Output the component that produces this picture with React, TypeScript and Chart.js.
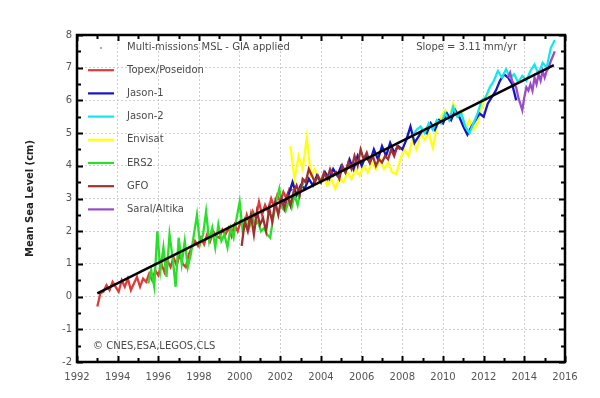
import React, { useEffect, useRef } from "react";
import { Chart, registerables } from "chart.js";
Chart.register(...registerables);

// ---- axis ticks ----
const xTickYears = [1992, 1994, 1996, 1998, 2000, 2002, 2004, 2006, 2008, 2010, 2012, 2014, 2016];
const yTickValues = [-2, -1, 0, 1, 2, 3, 4, 5, 6, 7, 8];

// ---- series (start year, step in years, values in cm) ----
const topexStart = 1993.0, topexStep = 0.15;
const topex = [
  -0.3, 0.1, 0.15, 0.35, 0.2, 0.45, 0.3, 0.15, 0.5, 0.3,
  0.55, 0.2, 0.4, 0.6, 0.3, 0.55, 0.45, 0.7, 0.5, 0.8,
  0.65, 1.0, 0.75, 1.1, 0.9, 1.2, 0.95, 1.3, 1.0, 0.9,
  1.3, 1.5, 1.7, 1.55, 1.8, 1.6, 1.9, 1.7, 2.0, 1.85,
  1.8, 2.05, 1.9, 2.1, 1.85, 2.2, 2.0, 2.3, 2.1, 2.5,
  2.2, 2.6, 2.4, 2.9, 2.5, 2.8, 2.6, 3.0, 2.75, 3.1,
  2.9, 3.2, 3.0, 3.3, 3.25,
];

const jason1Start = 2002.0, jason1Step = 0.2;
const jason1 = [
  3.0, 2.9, 3.1, 3.5, 3.1, 3.4, 3.3, 3.6, 3.4, 3.7,
  3.5, 3.8, 3.6, 3.9, 3.7, 4.0, 3.8, 4.2, 3.9, 4.3,
  4.0, 4.3, 4.1, 4.5, 4.2, 4.6, 4.3, 4.7, 4.4, 4.6,
  4.5, 4.8, 5.2, 4.7, 4.9, 5.1, 5.0, 5.3, 5.1, 5.4,
  5.3, 5.6, 5.4, 5.7, 5.5, 5.2, 4.95, 5.2, 5.4, 5.6,
  5.5, 5.9, 6.1, 6.3, 6.6, 6.8, 6.7, 6.5, 6.0,
];

const jason2Start = 2008.5, jason2Step = 0.2;
const jason2 = [
  4.9, 5.1, 5.2, 5.0, 5.3, 5.1, 5.4, 5.3, 5.6, 5.4,
  5.8, 5.5, 5.6, 5.2, 5.0, 5.3, 5.6, 6.0, 6.1, 6.4,
  6.6, 6.9, 6.7, 6.95, 6.7, 6.8, 6.55, 6.75, 6.6, 6.9,
  7.1, 6.8, 7.15, 7.0, 7.6, 7.85,
];

const envisatStart = 2002.5, envisatStep = 0.2;
const envisat = [
  4.6, 3.6, 4.3, 3.9, 4.85, 3.7, 3.9, 3.5, 3.7, 3.4,
  3.6, 3.3, 3.6, 3.5, 3.8, 3.6, 3.9, 3.7, 4.0, 3.8,
  4.1, 3.9, 4.2, 3.9, 4.1, 3.8, 3.75, 4.2, 4.5, 4.3,
  4.8, 4.5, 5.0, 4.8, 5.0, 4.55, 5.2, 5.5, 5.7, 5.4,
  5.9, 5.6, 5.7, 5.1, 5.4, 5.1, 5.3, 5.8, 6.1, 6.3,
];

const ers2Start = 1995.5, ers2Step = 0.15;
const ers2 = [
  0.4, 0.8, 0.3, 2.0, 0.8, 1.5, 0.6, 1.9, 1.2, 0.3,
  1.8, 1.0, 1.7, 0.9, 1.3, 1.9, 2.5, 1.6, 1.9, 2.6,
  1.7, 2.1, 1.5, 2.2, 1.7, 1.9, 1.5, 2.1, 1.8, 2.4,
  2.9, 2.0, 2.3, 2.1, 2.5, 2.2, 2.3, 2.0, 2.1, 1.9,
  1.8, 2.4, 2.9, 3.3, 2.7, 2.6, 2.9, 2.7, 3.1, 2.8,
  3.3, 3.5, 3.6,
];

const gfoStart = 2000.1, gfoStep = 0.15;
const gfo = [
  1.55, 2.3, 2.0, 2.5, 1.9, 2.6, 2.2, 2.4, 2.0, 2.7,
  2.3, 2.9, 2.5, 3.0, 2.7, 3.1, 2.8, 3.2, 3.4, 3.1,
  3.6, 3.5, 3.9, 3.7, 3.5, 3.7, 3.5, 3.8, 3.6, 3.9,
  3.7, 3.8, 3.6, 4.0, 3.8, 4.1, 3.9, 4.3, 4.0, 4.5,
  4.2, 4.4, 4.1, 4.3, 4.0, 4.2, 4.1, 4.3, 4.2, 4.5,
  4.3, 4.6, 4.5,
];

const saralStart = 2013.2, saralStep = 0.1;
const saral = [
  6.7, 6.85, 6.6, 6.5, 6.4, 6.1, 5.9, 5.7, 6.1, 6.4,
  6.3, 6.5, 6.3, 6.7, 6.5, 6.8, 6.6, 6.9, 6.7, 6.9,
  7.0, 7.2, 7.35, 7.5,
];

// trend (GIA applied multi-mission fit)
const trendYears = [1993.0, 2015.45];
const trendValues = [0.1, 7.08];

const legendHeader = "Multi-missions MSL - GIA applied";
const seriesNames = ["Topex/Poseidon", "Jason-1", "Jason-2", "Envisat", "ERS2", "GFO", "Saral/Altika"];
const seriesColors = ["#e03a3a", "#1414c8", "#10e8f0", "#ffff10", "#28e028", "#a03030", "#9a4cc8"];
const seriesStarts = [topexStart, jason1Start, jason2Start, envisatStart, ers2Start, gfoStart, saralStart];
const seriesSteps = [topexStep, jason1Step, jason2Step, envisatStep, ers2Step, gfoStep, saralStep];
const seriesValues = [topex, jason1, jason2, envisat, ers2, gfo, saral];
// drawing order: lower = on top
const seriesOrder = [7, 5, 4, 6, 2, 1, 3];

const slopeText = "Slope = 3.11 mm/yr";
const creditText = "\u00A9 CNES,ESA,LEGOS,CLS";
const yTitle = "Mean Sea Level (cm)";

const FONT = "'DejaVu Sans', sans-serif";

const decorPlugin = {
  id: "decor",
  afterDraw(chart: any) {
    const { ctx, chartArea: a, scales } = chart;
    const x = scales.x, y = scales.y;
    ctx.save();
    // ticks
    ctx.strokeStyle = "#000";
    ctx.lineWidth = 2;
    const drawX = (v: number, len: number) => {
      const px = Math.round(x.getPixelForValue(v)) + 0.5;
      ctx.beginPath();
      ctx.moveTo(px, a.bottom); ctx.lineTo(px, a.bottom - len);
      ctx.moveTo(px, a.top); ctx.lineTo(px, a.top + len);
      ctx.stroke();
    };
    const drawY = (v: number, len: number) => {
      const py = Math.round(y.getPixelForValue(v)) + 0.5;
      ctx.beginPath();
      ctx.moveTo(a.left, py); ctx.lineTo(a.left + len, py);
      ctx.moveTo(a.right, py); ctx.lineTo(a.right - len, py);
      ctx.stroke();
    };
    xTickYears.forEach((v, i) => {
      drawX(v, 6);
      if (i < xTickYears.length - 1) drawX((v + xTickYears[i + 1]) / 2, 4);
    });
    yTickValues.forEach((v, i) => {
      drawY(v, 6);
      if (i < yTickValues.length - 1) drawY((v + yTickValues[i + 1]) / 2, 4);
    });
    // frame
    ctx.lineWidth = 2.5;
    ctx.strokeRect(a.left, a.top, a.right - a.left, a.bottom - a.top);

    // legend
    ctx.font = `10px ${FONT}`;
    ctx.textBaseline = "middle";
    ctx.textAlign = "left";
    const lx0 = a.left + 11, lx1 = a.left + 37, tx = a.left + 50;
    let ly = a.top + 12;
    ctx.fillStyle = "#888";
    ctx.beginPath();
    ctx.arc((lx0 + lx1) / 2, ly + 1, 0.9, 0, Math.PI * 2);
    ctx.fill();
    ctx.fillStyle = "#4a4a4a";
    ctx.fillText(legendHeader, tx, ly);
    seriesNames.forEach((name, i) => {
      ly = a.top + 12 + (i + 1) * 23.2;
      ctx.strokeStyle = seriesColors[i];
      ctx.lineWidth = 2.2;
      ctx.beginPath();
      ctx.moveTo(lx0, ly); ctx.lineTo(lx1, ly);
      ctx.stroke();
      ctx.fillStyle = "#4a4a4a";
      ctx.fillText(name, tx, ly);
    });
    // slope
    ctx.textAlign = "right";
    ctx.fillText(slopeText, a.right - 48, a.top + 12);
    // credit
    ctx.textAlign = "left";
    ctx.fillText(creditText, a.left + 16, a.bottom - 16);
    // y title
    ctx.save();
    ctx.translate(30, (a.top + a.bottom) / 2);
    ctx.rotate(-Math.PI / 2);
    ctx.textAlign = "center";
    ctx.font = `bold 10px ${FONT}`;
    ctx.fillStyle = "#222";
    ctx.fillText(yTitle, 0, 0);
    ctx.restore();
    ctx.restore();
  },
};

export default function App() {
  const ref = useRef<HTMLCanvasElement | null>(null);
  useEffect(() => {
    document.body.style.margin = "0";
    const datasets: any[] = seriesNames.map((name, i) => ({
      label: name,
      data: seriesValues[i].map((v, j) => ({ x: seriesStarts[i] + j * seriesSteps[i], y: v })),
      borderColor: seriesColors[i],
      borderWidth: 2.3,
      pointRadius: 0,
      tension: 0,
      fill: false,
      order: seriesOrder[i],
    }));
    datasets.push({
      label: "Trend",
      data: trendYears.map((t, i) => ({ x: t, y: trendValues[i] })),
      borderColor: "#000",
      borderWidth: 2.5,
      pointRadius: 0,
      fill: false,
      order: 0,
    });
    const chart = new Chart(ref.current!, {
      type: "line",
      data: { datasets },
      options: {
        animation: false,
        responsive: true,
        maintainAspectRatio: false,
        layout: { padding: { left: 0, right: 35, top: 35, bottom: 0 } },
        plugins: { legend: { display: false }, tooltip: { enabled: false } },
        scales: {
          x: {
            type: "linear",
            min: xTickYears[0],
            max: xTickYears[xTickYears.length - 1],
            afterBuildTicks: (s: any) => { s.ticks = xTickYears.map((v) => ({ value: v })); },
            afterFit: (s: any) => { s.height = 36; },
            ticks: {
              callback: (v: any) => String(v),
              color: "#555",
              font: { family: FONT, size: 10 },
              padding: 9,
              maxRotation: 0,
            },
            grid: { color: "#cfcfcf", lineWidth: 1, drawTicks: false },
            border: { display: false, dash: [2, 2] },
          },
          y: {
            type: "linear",
            min: yTickValues[0],
            max: yTickValues[yTickValues.length - 1],
            afterBuildTicks: (s: any) => { s.ticks = yTickValues.map((v) => ({ value: v })); },
            afterFit: (s: any) => { s.width = 77; },
            ticks: {
              callback: (v: any) => String(v),
              color: "#555",
              font: { family: FONT, size: 10 },
              padding: 5,
            },
            grid: { color: "#cfcfcf", lineWidth: 1, drawTicks: false },
            border: { display: false, dash: [2, 2] },
          },
        },
      },
      plugins: [decorPlugin],
    });
    return () => chart.destroy();
  }, []);
  return (
    <div style={{ width: 600, height: 398, position: "relative", background: "#fff" }}>
      <canvas ref={ref} />
    </div>
  );
}
